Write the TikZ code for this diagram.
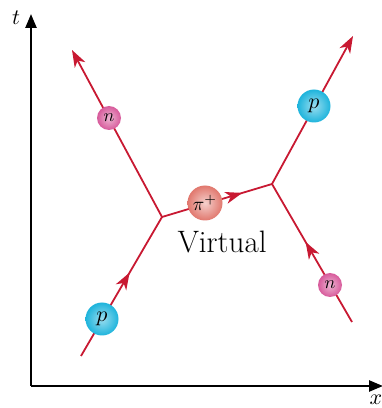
\documentclass[tikz,border=0pt]{standalone}
\usetikzlibrary{arrows.meta,decorations.markings}
\definecolor{linered}{RGB}{200,25,50}
\definecolor{protoncol}{RGB}{30,180,220}
\definecolor{neutroncol}{RGB}{215,90,155}
\definecolor{pioncol}{RGB}{225,120,110}
\newcommand{\bigsym}[2]{\scalebox{#1}{$#2$}}
\begin{document}
\begin{tikzpicture}[x=1pt,y=1pt]
\tikzstyle{world}=[line width=2.4pt, -{Triangle[length=14pt,width=11pt]}]
\tikzstyle{track}=[linered, line width=1.8pt]
\tikzstyle{midarrow}=[postaction={decorate}, decoration={markings,
  mark=at position #1 with {\arrow{Stealth[length=17pt,width=12pt,inset=5pt]}}}]
\tikzstyle{outarrow}=[-{Stealth[length=17pt,width=12pt,inset=5pt]}]
\tikzstyle{proton}=[circle, inner sep=0pt, minimum size=33pt, shading=radial, inner color=protoncol!45!white, outer color=protoncol]
\tikzstyle{neutron}=[circle, inner sep=0pt, minimum size=24pt, shading=radial, inner color=neutroncol!45!white, outer color=neutroncol]
\tikzstyle{pion}=[circle, inner sep=0pt, minimum size=35pt, shading=radial, inner color=pioncol!35!white, outer color=pioncol]
\useasboundingbox (0,0) rectangle (382,408);
% axes
\coordinate (o) at (31,22);
\coordinate (tend) at (31,394);
\coordinate (xend) at (383,22);
\draw[world] (o) -- (tend);
\draw[world] (o) -- (xend);
\node (tlab) at (16,390) {\bigsym{2.2}{t}};
\node (xlab) at (376,8) {\bigsym{2.2}{x}};
% vertices and free ends
\coordinate (v1) at (162,191);
\coordinate (v2) at (272,224);
\coordinate (a) at (81,52);
\coordinate (b) at (72,358);
\coordinate (c) at (353,372);
\coordinate (d) at (352,86);
\draw[track, midarrow=0.6] (a) -- (v1);
\draw[track, outarrow] (v1) -- (b);
\draw[track, midarrow=0.58] (d) -- (v2);
\draw[track, outarrow] (v2) -- (c);
\draw[track, midarrow=0.73] (v1) -- (v2);
% particles
\node[proton] (p1) at (102,89) {\bigsym{2.2}{p}};
\node[neutron] (n1) at (109,290) {\bigsym{1.8}{n}};
\node[proton] (p2) at (314,302) {\bigsym{2.2}{p}};
\node[neutron] (n2) at (330,123) {\bigsym{1.8}{n}};
\node[pion] (pi) at (205,205) {\bigsym{1.9}{\pi^+}};
\node[font=\fontsize{31}{31}\selectfont] (virt) at (222,166) {Virtual};
\end{tikzpicture}
\end{document}
